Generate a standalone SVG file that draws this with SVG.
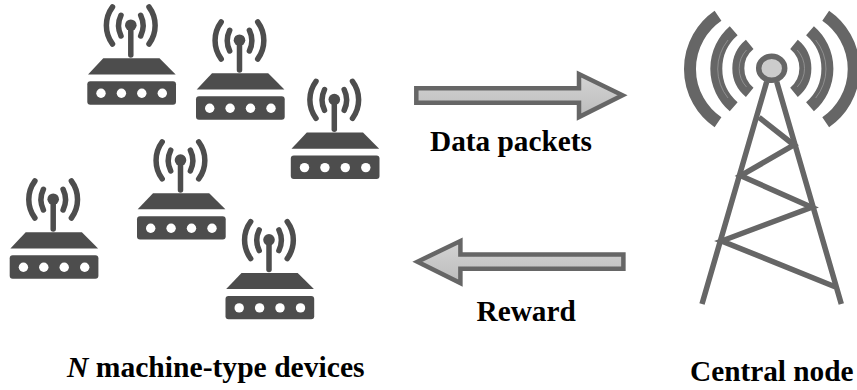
<svg xmlns="http://www.w3.org/2000/svg" width="857" height="390" viewBox="0 0 857 390">
<style>
.t{font-family:"Liberation Serif","Times New Roman",serif;font-weight:700;font-size:29.3px;fill:#000}
.arc{fill:none;stroke:#666;stroke-width:12}
.hl{fill:none;stroke:#a0a0a0;stroke-width:.7}
.leg{fill:none;stroke:#666;stroke-width:5.5}
.a{fill:url(#g);stroke:#666;stroke-width:4.5}
.ra{fill:none;stroke:#4d4d4d;stroke-width:5.5;stroke-linecap:round}
.rf{fill:#4d4d4d}
.rd{fill:#fff}
</style>
<defs>
<linearGradient id="g" x1="0" y1="0" x2="0" y2="1"><stop offset="0" stop-color="#d4d4d4"/><stop offset="1" stop-color="#bcbcbc"/></linearGradient>
<g id="router">
<path class="ra" d="M121 15.3A24 24 0 0 0 121 36M140.7 15.3A24 24 0 0 1 140.7 36"/>
<path class="ra" d="M112.5 7A31 31 0 0 0 112.5 44M149 7A31 31 0 0 1 149 44"/>
<path class="ra" d="M130.8 26V55"/>
<circle class="rf" cx="130.8" cy="25.2" r="5.8"/>
<path class="rf" d="M103.3 58.3H159.5L175.7 74.4H88Z"/>
<rect class="rf" x="87.3" y="81.3" width="88.7" height="23.4" rx="3"/>
<circle class="rd" cx="101" cy="93.3" r="4.7"/><circle class="rd" cx="121.4" cy="93.3" r="4.7"/><circle class="rd" cx="141.8" cy="93.3" r="4.7"/><circle class="rd" cx="162.3" cy="93.3" r="4.7"/>
</g>
</defs>
<g id="device-1"><use href="#router"/></g>
<g id="device-2"><use href="#router" x="108.7" y="15"/></g>
<g id="device-3"><use href="#router" x="203.5" y="74.3"/></g>
<g id="device-4"><use href="#router" x="49.7" y="134.9"/></g>
<g id="device-5"><use href="#router" x="-77.6" y="174"/></g>
<g id="device-6"><use href="#router" x="138.2" y="214.6"/></g>
<g id="central-node">
<path class="arc" d="M718 15.7A64.7 64.7 0 0 0 718 122.3M825.7 15.7A64.7 64.7 0 0 1 825.7 122.3"/>
<path class="arc" d="M733.7 30.7A50.2 50.2 0 0 0 733.7 106.7M810 30.7A50.2 50.2 0 0 1 810 106.7"/>
<path class="arc" d="M749.7 44.3A31 31 0 0 0 749.7 92.3M794 44.3A31 31 0 0 1 794 92.3"/>
<path class="hl" d="M746.5 50A27 27 0 0 0 746.5 87M797.2 50A27 27 0 0 1 797.2 87"/>
<path class="hl" d="M728 40A46 46 0 0 0 728 98M815.7 40A46 46 0 0 1 815.7 98"/>
<path class="leg" d="M766.7 81.7L702 304M776.7 81.7L841.3 304"/>
<path class="leg" d="M759 117.3L794 145L740.7 175.7L811.7 207.3L721.7 241L835 286.7"/>
<ellipse cx="771.7" cy="68.3" rx="13" ry="12" fill="#ccc" stroke="#666" stroke-width="5.5"/>
</g>
<g id="connectors">
<path class="a" d="M416.3 88.3H579V74L622.5 95.3 579 117V102.7H416.3Z"/>
<path class="a" d="M623.4 254.6H460.4V241L417.5 261.7 460.4 283V268.7H623.4Z"/>
</g>
<text class="t" x="430" y="150.5">Data packets</text>
<text class="t" x="476.5" y="321">Reward</text>
<text class="t" x="67" y="377" style="font-size:29.6px"><tspan font-style="italic">N</tspan> machine-type devices</text>
<text class="t" x="690" y="381">Central node</text>
</svg>
